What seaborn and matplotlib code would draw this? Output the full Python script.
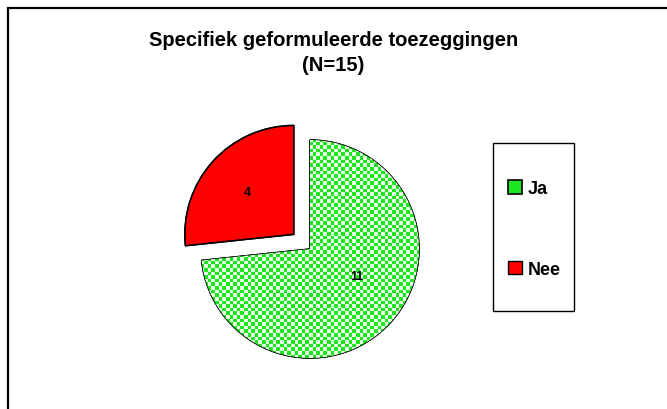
import numpy as np
import matplotlib
matplotlib.use("Agg")
import matplotlib.pyplot as plt
from matplotlib.patches import Patch, Rectangle
import seaborn as sns

# data
labels = ["Ja", "Nee"]
counts = [11, 4]
title = "Specifiek geformuleerde toezeggingen\n(N=15)"

GREEN = "#1ee61e"
RED = "#ff0000"

sns.set_theme(style="white")
plt.rcParams["font.family"] = ["Liberation Sans", "DejaVu Sans"]
plt.rcParams["text.color"] = "black"

W, H = 667, 410
fig = plt.figure(figsize=(W / 100, H / 100), dpi=100)

# outer chart frame (runs off the right / bottom edge like the source)
fig.patches.append(Rectangle((8 / W, -0.1), 1.2, (H - 9) / H + 0.1,
                             transform=fig.transFigure, fill=False,
                             edgecolor="black", linewidth=1.6))

# pie axes: centre at (310, 250) px, radius ~109 px
cx, cy, r_px, half = 310, 250, 109, 150
ax = fig.add_axes([(cx - half) / W, (H - cy - half) / H, 2 * half / W, 2 * half / H])
lim = half / r_px

total = sum(counts)
wedges, texts, autotexts = ax.pie(
    counts, explode=[0, 0.2], startangle=90, counterclock=False,
    colors=[GREEN, RED], autopct=lambda p: f"{round(p * total / 100)}",
    pctdistance=0.58, wedgeprops=dict(edgecolor="black", linewidth=1.0),
    textprops=dict(fontsize=9, fontweight="bold", color="black"),
    radius=1.0, frame=True)

# checkerboard texture on the "Ja" wedge
cell = 3.6 / r_px
n = int(2.4 / cell)
yy, xx = np.mgrid[0:n, 0:n]
board = ((xx + yy) % 2).astype(float)
cmap = matplotlib.colors.ListedColormap([GREEN, "#eaffea"])
img = ax.imshow(board, cmap=cmap, extent=[-1.2, -1.2 + n * cell, -1.2, -1.2 + n * cell],
                interpolation="nearest", zorder=wedges[0].get_zorder() + 0.1)
img.set_clip_path(wedges[0])
# redraw outline on top of texture
ax.pie(counts, startangle=90, counterclock=False, colors=["none", "none"],
       wedgeprops=dict(edgecolor="black", linewidth=1.0), explode=[0, 0.2],
       frame=True)
for t in autotexts:
    t.set_zorder(10)
# the "11" label sits a bit higher in the source
ang = np.deg2rad(-30)
autotexts[0].set_position((0.5 * np.cos(ang), 0.5 * np.sin(ang)))

ax.set_xlim(-lim, lim)
ax.set_ylim(-lim, lim)
ax.set_aspect("equal")
ax.axis("off")

fig.text(0.5, 1 - 53 / H, title, ha="center", va="center",
         fontsize=14.5, fontweight="bold", linespacing=1.45)

# legend box
bx0, bx1, by0, by1 = 493, 574, 144, 312
fig.patches.append(Rectangle((bx0 / W, 1 - by1 / H), (bx1 - bx0) / W, (by1 - by0) / H,
                             transform=fig.transFigure, fill=False,
                             edgecolor="black", linewidth=1.0))
handles = [Patch(facecolor=GREEN, edgecolor="black", linewidth=1.2),
           Patch(facecolor=RED, edgecolor="black", linewidth=1.0)]
leg = fig.legend(handles, labels, loc="center left",
                 bbox_to_anchor=(508 / W, 1 - 230 / H),
                 frameon=False, prop=dict(size=13, weight="bold"),
                 handlelength=0.75, handleheight=0.75, handletextpad=0.35,
                 labelspacing=3.5, borderpad=0, borderaxespad=0)

fig.savefig("out.png", dpi=100)
